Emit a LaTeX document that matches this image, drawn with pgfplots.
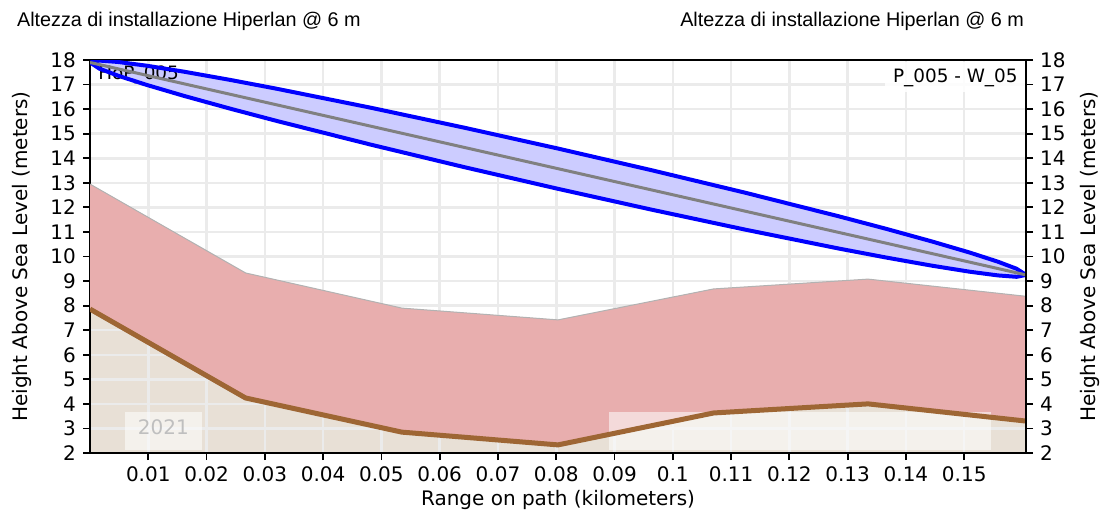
\documentclass[border=0pt]{standalone}
\usepackage{fontspec}
\setmainfont{DejaVu Sans}
\newfontfamily\arialfont{Liberation Sans}
\usepackage{pgfplots}
\pgfplotsset{compat=1.18}

\definecolor{gridgray}{RGB}{235,235,235}
\definecolor{terrain}{RGB}{232,224,214}
\definecolor{clutter}{RGB}{232,174,174}
\definecolor{soil}{RGB}{158,102,52}
\definecolor{fresnel}{RGB}{204,204,255}

\pgfplotsset{
  chartbase/.style={
    at={(0,0)}, anchor=south west,
    scale only axis, width=468pt, height=196.5pt,
    xmin=0, xmax=0.1606, ymin=2, ymax=18,
    ytick={2,3,...,18},
    tick align=outside, major tick length=3.5pt,
    tick style={black, line width=0.9pt},
    axis line style={line width=1.2pt},
    /pgf/number format/assume math mode=true,
    ticklabel style={font=\fontsize{10}{12}\selectfont},
    label style={font=\fontsize{10}{12}\selectfont},
  }
}

\begin{document}
\begin{tikzpicture}
\begin{axis}[
  chartbase,
  set layers,
  xtick={0.01,0.02,0.03,0.04,0.05,0.06,0.07,0.08,0.09,0.1,0.11,0.12,0.13,0.14,0.15},
  xticklabels={0.01,0.02,0.03,0.04,0.05,0.06,0.07,0.08,0.09,0.1,0.11,0.12,0.13,0.14,0.15},
  xtick pos=left, ytick pos=left,
  grid=major, major grid style={gridgray, line width=1.25pt},
  xlabel={Range on path (kilometers)},
  ylabel={Height Above Sea Level (meters)},
  xlabel style={at={(axis description cs:0.5,-0.1196)}, anchor=center},
  ylabel style={at={(axis description cs:-0.0727,0.5)}, anchor=center},
]
% terrain (below the grid)
\addplot[on layer=axis background, fill=terrain, draw=none] coordinates {
  (0,7.86) (0.0267,4.24) (0.0535,2.85) (0.0803,2.33) (0.107,3.63) (0.1335,4.0) (0.1606,3.3)
} \closedcycle;

% clutter band
\addplot[fill=clutter, draw=none] coordinates {
  (0,12.95) (0.0267,9.33) (0.0535,7.9) (0.0803,7.42) (0.107,8.68) (0.1335,9.08) (0.1606,8.38)
  (0.1606,3.3) (0.1335,4.0) (0.107,3.63) (0.0803,2.33) (0.0535,2.85) (0.0267,4.24) (0,7.86)
} -- cycle;
\addplot[gray!60, line width=0.5pt] coordinates {
  (0,12.95) (0.0267,9.33) (0.0535,7.9) (0.0803,7.42) (0.107,8.68) (0.1335,9.08) (0.1606,8.38)
};

% annotation boxes
\fill[white, opacity=0.55] (axis cs:0.0060,2.12) rectangle (axis cs:0.0192,3.67);
\fill[white, opacity=0.55] (axis cs:0.0890,2.12) rectangle (axis cs:0.1546,3.67);
\node[text=black!25, font=\fontsize{10}{12}\selectfont] at (axis cs:0.0126,3.05) {2021};

% ground profile
\addplot[soil, line width=2.5pt, line join=round] coordinates {
  (0,7.86) (0.0267,4.24) (0.0535,2.85) (0.0803,2.33) (0.107,3.63) (0.1335,4.0) (0.1606,3.3)
};

% Fresnel zone
\addplot[fill=fresnel, draw=none] coordinates {
  (0,17.9) (0.001606,17.977) (0.004818,17.920) (0.009636,17.771) (0.01606,17.527)
  (0.02409,17.188) (0.03212,16.826) (0.04818,16.057) (0.06424,15.243) (0.0803,14.395)
  (0.09636,13.513) (0.11242,12.597) (0.12848,11.636) (0.13651,11.133) (0.14454,10.607)
  (0.150964,10.159) (0.155782,9.789) (0.158994,9.500) (0.1606,9.25)
  (0.158994,9.173) (0.155782,9.230) (0.150964,9.380) (0.14454,9.623) (0.13651,9.962)
  (0.12848,10.324) (0.11242,11.094) (0.09636,11.907) (0.0803,12.755) (0.06424,13.637)
  (0.04818,14.554) (0.03212,15.514) (0.02409,16.017) (0.01606,16.543) (0.009636,16.992)
  (0.004818,17.361) (0.001606,17.650) (0,17.9)
} -- cycle;

\node[anchor=north west, inner sep=0pt, font=\fontsize{9.2}{11}\selectfont,
      xshift=4pt, yshift=-2.5pt]
  at (axis description cs:0,1) {HoP\_005};

\addplot[draw=blue, line width=2pt, line join=round] coordinates {
  (0,17.9) (0.001606,17.977) (0.004818,17.920) (0.009636,17.771) (0.01606,17.527)
  (0.02409,17.188) (0.03212,16.826) (0.04818,16.057) (0.06424,15.243) (0.0803,14.395)
  (0.09636,13.513) (0.11242,12.597) (0.12848,11.636) (0.13651,11.133) (0.14454,10.607)
  (0.150964,10.159) (0.155782,9.789) (0.158994,9.500) (0.1606,9.25)
  (0.158994,9.173) (0.155782,9.230) (0.150964,9.380) (0.14454,9.623) (0.13651,9.962)
  (0.12848,10.324) (0.11242,11.094) (0.09636,11.907) (0.0803,12.755) (0.06424,13.637)
  (0.04818,14.554) (0.03212,15.514) (0.02409,16.017) (0.01606,16.543) (0.009636,16.992)
  (0.004818,17.361) (0.001606,17.650) (0,17.9)
} -- cycle;
% line of sight
\addplot[gray, line width=1.5pt] coordinates {(0,17.9) (0.1606,9.25)};

\node[anchor=north east, fill=white, fill opacity=0.85, text opacity=1,
      inner xsep=4pt, inner ysep=3pt, font=\fontsize{9.2}{11}\selectfont, yshift=-1pt]
  at (axis description cs:1,1) {P\_005 - W\_05};
\end{axis}

\begin{axis}[
  chartbase,
  axis x line=none, axis y line*=right,
  ytick pos=right, yticklabel pos=right,
  ylabel={Height Above Sea Level (meters)},
  ylabel style={at={(axis description cs:1.0684,0.5)}, anchor=center},
]
\addplot[draw=none] coordinates {(0,2) (0.1606,18)};
\end{axis}

\node[anchor=base west, font=\arialfont\fontsize{9.9}{11}\selectfont] at (-40pt,213pt)
  {Altezza di installazione Hiperlan @ 6 m};
\node[anchor=base east, font=\arialfont\fontsize{9.9}{11}\selectfont] at (470.5pt,213pt)
  {Altezza di installazione Hiperlan @ 6 m};

\pgfresetboundingbox
\path (-45pt,-31pt) rectangle (506pt,226.5pt);
\end{tikzpicture}
\end{document}
